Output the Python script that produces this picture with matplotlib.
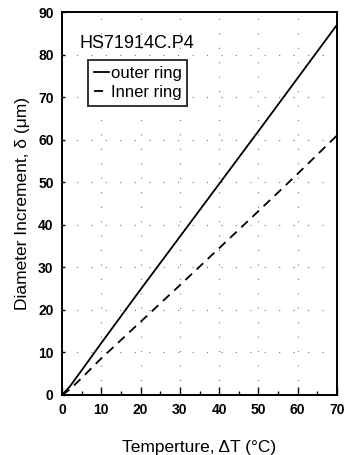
import numpy as np
import matplotlib
matplotlib.use('Agg')
import matplotlib.pyplot as plt

plt.rcParams['font.family'] = ['Liberation Sans', 'DejaVu Sans']

# values
temp = [0, 2, 5, 10, 20, 30, 40, 50, 60, 70]
outer_ring = [0, 2.0, 5.8, 12.2, 24.8, 37.2, 49.6, 62.0, 74.5, 87.0]
inner_ring = [0, 1.3, 4.0, 8.6, 17.2, 25.8, 34.5, 43.2, 52.0, 61.0]
xticks = np.arange(0, 71, 10)
yticks = np.arange(0, 91, 10)

fig = plt.figure(figsize=(3.44, 4.55), dpi=100)
ax = fig.add_axes([62/344, 60/455, 275/344, 383/455])

ax.plot(temp, outer_ring, color='black', lw=1.3, label='outer ring')
ax.plot(temp, inner_ring, color='black', lw=1.3, ls=(0, (5, 3.5)), label='Inner ring')

ax.set_xlim(0, 70)
ax.set_ylim(0, 90)
ax.set_xticks(xticks)
ax.set_yticks(yticks)
ax.set_xticks(np.arange(0, 71, 5), minor=True)
ax.tick_params(which='both', direction='in', width=1)
ax.tick_params(axis='x', which='major', length=6, labelsize=10, pad=6)
ax.tick_params(axis='x', which='minor', length=3)
ax.tick_params(axis='y', which='major', length=2, labelsize=10, pad=6)
for lab in ax.get_xticklabels() + ax.get_yticklabels():
    lab.set_fontweight('bold')
for sp in ax.spines.values():
    sp.set_linewidth(1.4)
ax.grid(True, which='major', color='0.45', ls=(0, (1, 12)), lw=0.8)

ax.set_xlabel('Temperture, ΔT (°C)', fontsize=12.5, labelpad=16)
ax.set_ylabel('Diameter Increment, δ (μm)', fontsize=12.5, labelpad=6)

ax.text(0.065, 0.905, 'HS71914C.P4', transform=ax.transAxes, fontsize=13)
leg = ax.legend(loc='upper left', bbox_to_anchor=(0.095, 0.875), fontsize=12,
                frameon=True, fancybox=False, edgecolor='black',
                handlelength=0.9, handletextpad=0.1, borderpad=0.35,
                labelspacing=0.25, borderaxespad=0)
leg.get_frame().set_linewidth(1.4)

plt.savefig('out.png', dpi=100)
